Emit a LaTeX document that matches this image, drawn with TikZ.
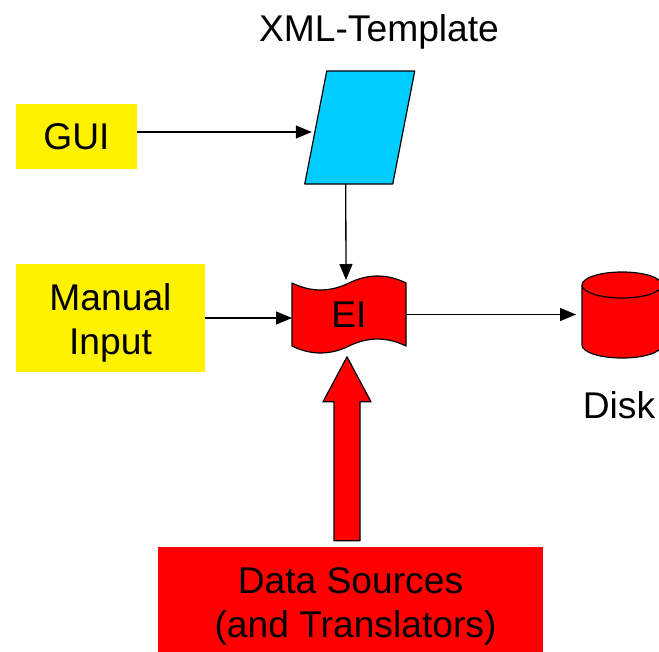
\documentclass[tikz,border=0pt]{standalone}
\usepackage{fontspec}
\setmainfont{Liberation Sans}
\usetikzlibrary{arrows.meta}
\usetikzlibrary{positioning,backgrounds}
\usetikzlibrary{shapes.geometric}
\newcommand{\bigfont}[0]{\fontsize{37.2}{44}\selectfont}
\newcommand{\topstrut}[0]{\rule{0pt}{37pt}}
\definecolor{xmlblue}{RGB}{0,204,255}

\begin{document}
\begin{tikzpicture}[x=1pt,y=1pt]
\tikzstyle{input} = [rectangle, fill=yellow, inner sep=0, align=center, font=\bigfont]
\tikzstyle{shapebox} = [rectangle, inner sep=0, outer sep=0]
\tikzstyle{source} = [rectangle, fill=red, inner sep=0, align=center, font=\bigfont]
\tikzstyle{outline} = [line width=1.2pt, draw=black, line join=round]

\tikzstyle{arrow} = [line width=1.3pt,-{Triangle[length=16pt,width=13pt]}]

\useasboundingbox (0,0) rectangle (659,-651);

\node (gui) [input, minimum width=121pt, minimum height=65pt] at (76.5,-136.5) {GUI};
\node (manual) [input, minimum width=189pt, minimum height=108pt] at (110.5,-318) {\topstrut Manual\\Input};

\node (xmlt) [shapebox, minimum width=88pt, minimum height=113pt] at (359.75,-127.5) {};
\node (xmllabel) [font=\bigfont] at (379,-32) {XML-Template};

\node (ei) [shapebox, minimum width=114pt, minimum height=63pt, font=\bigfont] at (349,-314.5) {EI};

\node (disk) [shapebox, minimum width=80pt, minimum height=86pt] at (622,-315) {};
\node (disklabel) [font=\bigfont, below=30pt of disk, xshift=-3pt] {Disk};

\node (ds) [source, minimum width=385pt, minimum height=108pt] at (350.5,-601) {\topstrut Data Sources\\\hspace*{10pt}(and Translators)};
\coordinate (tail) at ([xshift=-3.5pt,yshift=6pt]ds.north);

\draw [outline, fill=xmlblue] ([xshift=11pt]xmlt.north west) -- ([xshift=11pt]xmlt.north east)
    -- ([xshift=-11pt]xmlt.south east) -- ([xshift=-11pt]xmlt.south west) -- cycle;

\begin{scope}[on background layer]
\draw [outline, fill=red] (ei.north west) .. controls +(19,-9.3) and +(-19,-9.3) .. (ei.north)
    .. controls +(19,9.3) and +(-19,9.3) .. (ei.north east) -- (ei.south east)
    .. controls +(-19,9.3) and +(19,9.3) .. (ei.south)
    .. controls +(-19,-9.3) and +(19,-9.3) .. (ei.south west) -- cycle;
\end{scope}

\draw [outline, fill=red] ([yshift=-13pt]disk.north west) -- ([yshift=13pt]disk.south west)
    arc[start angle=180, end angle=360, x radius=40pt, y radius=13pt]
    -- ([yshift=-13pt]disk.north east)
    arc[start angle=0, end angle=180, x radius=40pt, y radius=13pt] -- cycle;
\draw [outline] ([yshift=-13pt]disk.north west)
    arc[start angle=180, end angle=360, x radius=40pt, y radius=13pt];

% big arrow from the sources up to EI
\draw [outline, fill=red] ([xshift=-13pt]tail) -- ++(0,139) -- ++(-11,0) -- ++(24,45)
    -- ++(24,-45) -- ++(-11,0) -- ++(0,-139) -- cycle;


\draw [arrow, shorten >=4pt] ([yshift=4.5pt]gui.east) -- ([yshift=4.5pt]gui.east -| xmlt.west);
\draw [arrow] ([xshift=-14pt]xmlt.south) -- ([xshift=-3pt,yshift=3pt]ei.north);
\draw [arrow] (manual.east) -- (manual.east -| ei.west);
\draw [arrow, shorten >=6pt] (ei.east) -- (ei.east -| disk.west);

\end{tikzpicture}
\end{document}
